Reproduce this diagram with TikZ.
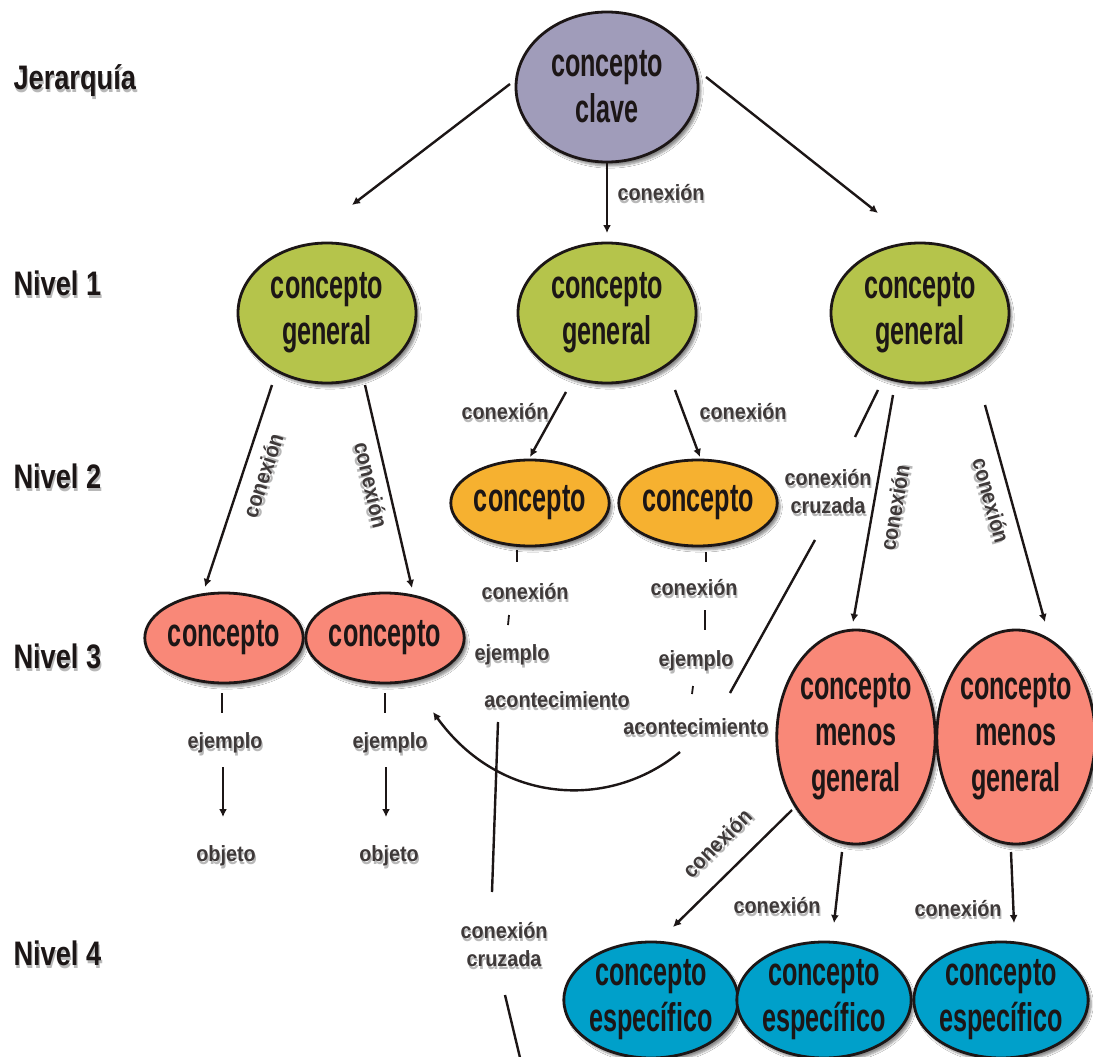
\documentclass[tikz,border=0pt]{standalone}
\usepackage{fontspec}
\setmainfont{Liberation Sans}
\newfontfamily\cfont[FakeStretch=0.63]{Liberation Sans}
\newfontfamily\lfont[FakeStretch=0.9]{Liberation Sans}
\newfontfamily\hfont[FakeStretch=0.8]{Liberation Sans}
\usetikzlibrary{shapes.geometric,arrows.meta,shadows.blur,calc}

\definecolor{lavanda}{RGB}{160,156,186}
\definecolor{verde}{RGB}{181,196,75}
\definecolor{naranja}{RGB}{246,177,48}
\definecolor{salmon}{RGB}{249,136,120}
\definecolor{azul}{RGB}{0,160,202}
\definecolor{tinta}{RGB}{28,22,22}

% text with a soft grey shadow underneath
\newcommand{\sh}[1]{\leavevmode\rlap{\kern1.2pt\raisebox{-2.8pt}{\textcolor{black!28}{#1}}}#1}

\tikzset{
  concept/.style={ellipse, draw=tinta, line width=2.8pt, inner sep=0pt, align=center,
    text=tinta, font=\cfont\bfseries\fontsize{40}{46}\selectfont,
    blur shadow={shadow xshift=3pt, shadow yshift=-4pt, shadow opacity=45, shadow blur steps=6}},
  lbl/.style={font=\lfont\bfseries\fontsize{22}{28}\selectfont, text=tinta!85, inner sep=1pt, align=center},
  lvl/.style={font=\hfont\bfseries\fontsize{34}{40}\selectfont, anchor=west, text=tinta},
  link/.style={draw=tinta, line width=2.4pt},
  tick/.style={draw=tinta, line width=1.8pt},
  arr/.style={link, -{Latex[length=8pt,width=8pt]}}
}

\begin{document}
\begin{tikzpicture}[x=1pt,y=-1pt]
\useasboundingbox[fill=white] (0,0) rectangle (1093,1057);

% level headings
\node[lvl] (hj) at (10,82) {\sh{Jerarquía}};
\node[lvl] (h1) at (10,285) {\sh{Nivel 1}};
\node[lvl] (h2) at (10,478) {\sh{Nivel 2}};
\node[lvl] (h3) at (10,658) {\sh{Nivel 3}};
\node[lvl] (h4) at (10,955) {\sh{Nivel 4}};

% concept nodes
\node[concept, fill=lavanda, minimum width=182pt, minimum height=150pt] (clave) at (607,87) {concepto\\clave};
\node[concept, fill=verde, minimum width=178pt, minimum height=140pt] (g1) at (327,313) {concepto\\general};
\node[concept, fill=verde, minimum width=178pt, minimum height=140pt] (g2) at (607,313) {concepto\\general};
\node[concept, fill=verde, minimum width=178pt, minimum height=140pt] (g3) at (920,313) {concepto\\general};
\node[concept, fill=naranja, minimum width=150pt, minimum height=86pt] (o1) at (530,503) {concepto};
\node[concept, fill=naranja, minimum width=150pt, minimum height=86pt] (o2) at (698,503) {concepto};
\node[concept, fill=salmon, minimum width=150pt, minimum height=90pt] (p1) at (224,638) {concepto};
\node[concept, fill=salmon, minimum width=150pt, minimum height=90pt] (p2) at (385,638) {concepto};
\node[concept, fill=salmon, minimum width=156pt, minimum height=214pt] (m1) at (856,737) {concepto\\menos\\general};
\node[concept, fill=salmon, minimum width=152pt, minimum height=214pt] (m2) at (1016,737) {concepto\\menos\\general};
\node[concept, fill=azul, minimum width=163pt, minimum height=116pt] (b1) at (651,1000) {concepto\\específico};
\node[concept, fill=azul, minimum width=163pt, minimum height=116pt] (b2) at (824,1000) {concepto\\específico};
\node[concept, fill=azul, minimum width=163pt, minimum height=116pt] (b3) at (1001,1000) {concepto\\específico};

% connector labels
\node[lbl] (lk0) at (661,194) {\sh{conexión}};
\node[lbl, rotate=71.6] (lg1a) at (264,476) {\sh{conexión}};
\node[lbl, rotate=-77] (lg1b) at (370,485) {\sh{conexión}};
\node[lbl] (lg2a) at (505,413) {\sh{conexión}};
\node[lbl] (lg2b) at (743,413) {\sh{conexión}};
\node[lbl] (lc1) at (828,493) {\sh{conexión}\\\sh{cruzada}};
\node[lbl, rotate=80] (lg3a) at (896,508) {\sh{conexión}};
\node[lbl, rotate=-74.5] (lg3b) at (990,501) {\sh{conexión}};
\node[lbl] (lo1) at (525,593) {\sh{conexión}};
\node[lbl] (le1) at (512,656) {\sh{ejemplo}};
\node[lbl] (ac1) at (557,701) {\sh{acontecimiento}};
\node[lbl] (lo2) at (694,589) {\sh{conexión}};
\node[lbl] (le2) at (696,662) {\sh{ejemplo}};
\node[lbl] (ac2) at (696,728) {\sh{acontecimiento}};
\node[lbl] (pe1) at (225,744) {\sh{ejemplo}};
\node[lbl] (po1) at (226,857) {\sh{objeto}};
\node[lbl] (pe2) at (390,744) {\sh{ejemplo}};
\node[lbl] (po2) at (389,857) {\sh{objeto}};
\node[lbl] (lc2) at (504,946) {\sh{conexión}\\\sh{cruzada}};
\node[lbl, rotate=44.5] (lm1a) at (718,844) {\sh{conexión}};
\node[lbl] (lm1b) at (777,907) {\sh{conexión}};
\node[lbl] (lm2) at (958,910) {\sh{conexión}};
\coordinate (fuera) at (522,1066);

% key concept to general concepts
\draw[arr] ($(clave)+(-97,-3)$) -- ($(g1)+(25,-108)$);
\draw[arr] ($(clave)+(0,74)$) -- ($(g2)+(0,-80)$);
\draw[arr] ($(clave)+(99,-10)$) -- ($(g3)+(-42,-100)$);

% general concepts to level 2 / level 3
\draw[arr] ($(g1)+(-55,72)$) -- ($(p1)+(-19,-51)$);
\draw[arr] ($(g1)+(38,72)$) -- ($(p2)+(27,-50)$);
\draw[arr] ($(g2)+(-41,79)$) -- ($(o1)+(0,-46)$);
\draw[arr] ($(g2)+(68,77)$) -- ($(o2)+(2,-46)$);
\draw[arr] ($(g3)+(-27,82)$) -- ($(m1)+(-3,-115)$);
\draw[arr] ($(g3)+(65,92)$) -- ($(m2)+(29,-115)$);

% cross link from the right general concept
\draw[link] ($(g3)+(-42,77)$) -- ($(lc1)+(27,-56)$);
\draw[link] ($(lc1)+(-13,47)$) -- ($(ac2)+(34,-35)$);

% example chains below level 2
\draw[tick] ($(o1)+(-13,47)$) -- ($(lo1)+(-8,-31)$);
\draw[tick] ($(lo1)+(-16,22)$) -- ($(le1)+(-4,-31)$);
\draw[tick] ($(o2)+(8,49)$) -- ($(lo2)+(12,-27)$);
\draw[tick] ($(lo2)+(11,21)$) -- ($(le2)+(9,-32)$);
\draw[tick] ($(le2)+(-3,24)$) -- ($(ac2)+(-4,-34)$);

% second cross link, leaving the picture at the bottom
\draw[link] ($(ac1)+(-59,21)$) -- ($(lc2)+(-12,-54)$);
\draw[link] ($(lc2)+(1,49)$) -- (fuera);

% curved link back to level 3
\draw[arr] ($(ac2)+(-16,24)$) .. controls (610,810) and (500,805) .. ($(p2)+(48,74)$);

% level 3 examples and objects
\draw[tick] ($(p1)+(-2,55)$) -- ($(pe1)+(-3,-31)$);
\draw[arr] ($(pe1)+(-2,23)$) -- ($(po1)+(-3,-40)$);
\draw[tick] ($(p2)+(0,55)$) -- ($(pe2)+(-5,-31)$);
\draw[arr] ($(pe2)+(-4,23)$) -- ($(po2)+(-3,-40)$);

% less general concepts to specific concepts
\draw[arr] ($(m1)+(-64,73)$) -- ($(b1)+(22,-73)$);
\draw[arr] ($(m1)+(-14,115)$) -- ($(b2)+(10,-77)$);
\draw[arr] ($(m2)+(-5,115)$) -- ($(b3)+(13,-77)$);
\end{tikzpicture}
\end{document}
